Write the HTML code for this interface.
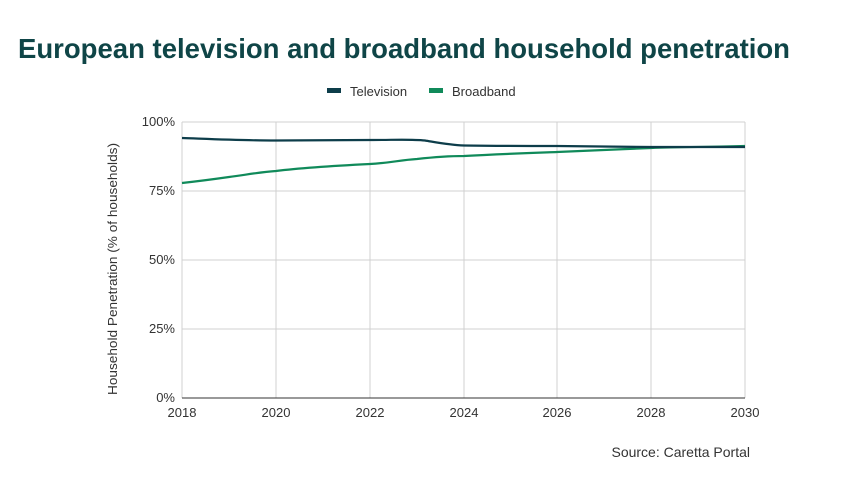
<!DOCTYPE html>
<html><head><meta charset="utf-8"><style>
body{margin:0;width:853px;height:480px;background:#fff;overflow:hidden}
svg{display:block}
</style></head><body>
<svg width="853" height="480" xmlns="http://www.w3.org/2000/svg" font-family="Liberation Sans, sans-serif">
<text x="18" y="58" font-size="28" font-weight="bold" fill="#0f4547" textLength="772" lengthAdjust="spacingAndGlyphs">European television and broadband household penetration</text>
<rect x="327" y="88" width="14" height="5" fill="#0d3d4a"/>
<text x="350" y="96" font-size="13" fill="#333">Television</text>
<rect x="429" y="88" width="14" height="5" fill="#108a5a"/>
<text x="452" y="96" font-size="13" fill="#333">Broadband</text>
<g stroke="#d0d0d0" stroke-width="1">
<line x1="182" y1="122" x2="745" y2="122"/><line x1="182" y1="191" x2="745" y2="191"/>
<line x1="182" y1="260" x2="745" y2="260"/><line x1="182" y1="329" x2="745" y2="329"/>
<line x1="276" y1="122" x2="276" y2="398"/><line x1="370" y1="122" x2="370" y2="398"/>
<line x1="464" y1="122" x2="464" y2="398"/><line x1="557" y1="122" x2="557" y2="398"/>
<line x1="651" y1="122" x2="651" y2="398"/><line x1="745" y1="122" x2="745" y2="398"/>
<line x1="182" y1="122" x2="182" y2="398"/>
</g>
<line x1="182" y1="398" x2="745" y2="398" stroke="#333" stroke-width="1"/>
<g font-size="13" fill="#333" text-anchor="end">
<text x="175" y="126">100%</text><text x="175" y="195">75%</text><text x="175" y="264">50%</text><text x="175" y="333">25%</text><text x="175" y="402">0%</text>
</g>
<g font-size="13" fill="#333" text-anchor="middle">
<text x="182" y="417">2018</text><text x="276" y="417">2020</text><text x="370" y="417">2022</text><text x="464" y="417">2024</text><text x="557" y="417">2026</text><text x="651" y="417">2028</text><text x="745" y="417">2030</text>
</g>
<text transform="translate(117,269) rotate(-90)" font-size="13" fill="#333" text-anchor="middle" textLength="252" lengthAdjust="spacingAndGlyphs">Household Penetration (% of households)</text>
<path d="M182,183 C200,181 215,179 229,177 C245,175 260,172 276,171 C300,168 330,166 370,164 C390,163 400,160 417,159 C435,157 450,156 464,156 C500,154 530,153 557,152 C600,150 630,149 651,148 C680,147 710,147 745,146" fill="none" stroke="#108a5a" stroke-width="2.2"/>
<path d="M182,138 C210,139 240,140.5 276,140.5 C320,140.5 340,140 370,140 C395,140 410,139 425,140.5 C440,143 450,145 464,145.5 C500,146 530,146 557,146 C600,146.5 630,147 651,147 C690,147 720,147 745,147" fill="none" stroke="#0d3d4a" stroke-width="2.2"/>
<text x="750" y="457" font-size="14" fill="#333" text-anchor="end">Source: Caretta Portal</text>
</svg>
</body></html>
